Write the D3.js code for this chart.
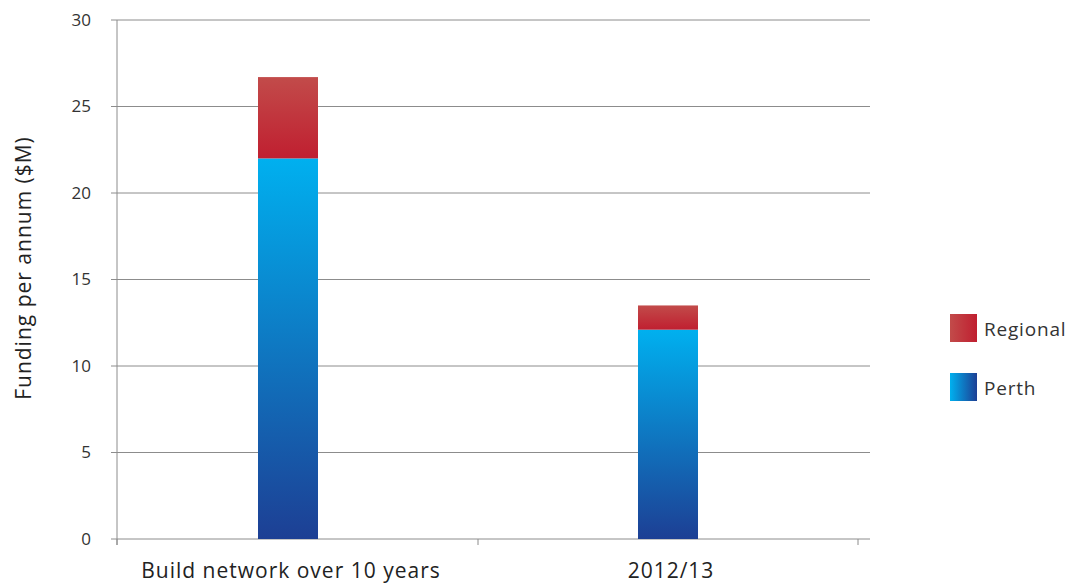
<!DOCTYPE html>
<html><head><meta charset="utf-8">
<script src="https://cdn.jsdelivr.net/npm/d3@7"></script>
<style>body{margin:0;background:#fff}svg{font-family:"Open Sans",sans-serif}</style>
</head><body>
<svg id="c" width="1070" height="585"></svg>
<script>
const categories = ["Build network over 10 years", "2012/13"];
const perth = [22.0, 12.1];
const regional = [4.7, 1.4];
const yTicks = [0, 5, 10, 15, 20, 25, 30];
const seriesNames = ["Regional", "Perth"];

const svg = d3.select("#c");
const y = d3.scaleLinear().domain([0, 30]).range([539, 20]);
const x = d3.scaleBand().domain(categories).range([98, 858]);
const barW = 60;
const plotLeft = 117, plotRight = 870;

const defs = svg.append("defs");
function grad(id, c1, c2, vertical) {
  const g = defs.append("linearGradient").attr("id", id)
    .attr("x1", 0).attr("y1", 0).attr("x2", vertical ? 0 : 1).attr("y2", vertical ? 1 : 0);
  g.append("stop").attr("offset", "0%").attr("stop-color", c1);
  g.append("stop").attr("offset", "100%").attr("stop-color", c2);
}
grad("redV", "#c24b4a", "#c01f30", true);
grad("blueV", "#00b0ef", "#1d3f94", true);
grad("redH", "#c24b4a", "#c01f30", false);
grad("blueH", "#00b0ef", "#1d3f94", false);

// gridlines
svg.append("g").selectAll("line").data(yTicks).join("line")
  .attr("x1", plotLeft - 6).attr("x2", plotRight)
  .attr("y1", d => y(d)).attr("y2", d => y(d))
  .attr("stroke", "#8c8c8c").attr("stroke-width", 1);
// y axis line
svg.append("line").attr("x1", plotLeft).attr("x2", plotLeft)
  .attr("y1", y(30)).attr("y2", y(0) + 6).attr("stroke", "#8c8c8c");
// x ticks at band boundaries
const bounds = [x.range()[0], x(categories[1]), x.range()[1]].map(v => Math.max(v, plotLeft));
svg.append("g").selectAll("line").data(bounds).join("line")
  .attr("x1", d => d).attr("x2", d => d).attr("y1", y(0)).attr("y2", y(0) + 6)
  .attr("stroke", "#8c8c8c");

// y tick labels
svg.append("g").selectAll("text").data(yTicks).join("text")
  .attr("x", 91).attr("y", d => y(d)).attr("dy", "0.35em")
  .attr("text-anchor", "end").attr("font-size", 17).attr("fill", "#333")
  .text(d => d);

// bars
const cx = c => x(c) + x.bandwidth() / 2;
svg.append("g").selectAll("rect").data(categories).join("rect")
  .attr("x", c => cx(c) - barW / 2).attr("width", barW)
  .attr("y", (c, i) => y(perth[i])).attr("height", (c, i) => y(0) - y(perth[i]))
  .attr("fill", "url(#blueV)");
svg.append("g").selectAll("rect").data(categories).join("rect")
  .attr("x", c => cx(c) - barW / 2).attr("width", barW)
  .attr("y", (c, i) => y(perth[i] + regional[i])).attr("height", (c, i) => y(perth[i]) - y(perth[i] + regional[i]))
  .attr("fill", "url(#redV)");

// x labels
svg.append("g").selectAll("text").data(categories).join("text")
  .attr("x", c => cx(c) + 3).attr("y", 578)
  .attr("text-anchor", "middle").attr("font-size", 21).attr("letter-spacing", 1).attr("fill", "#222")
  .text(c => c);

// y title
svg.append("text").attr("transform", "translate(31,268) rotate(-90)")
  .attr("text-anchor", "middle").attr("font-size", 21).attr("letter-spacing", 1).attr("fill", "#222")
  .text("Funding per annum ($M)");

// legend
const leg = svg.append("g").selectAll("g").data(seriesNames).join("g")
  .attr("transform", (d, i) => `translate(950,${314 + i * 59})`);
leg.append("rect").attr("width", 27).attr("height", 28)
  .attr("fill", (d, i) => i === 0 ? "url(#redH)" : "url(#blueH)");
leg.append("text").attr("x", 34).attr("y", 15).attr("dy", "0.35em")
  .attr("font-size", 19).attr("letter-spacing", 0.8).attr("fill", "#333").text(d => d);
</script>
</body></html>
